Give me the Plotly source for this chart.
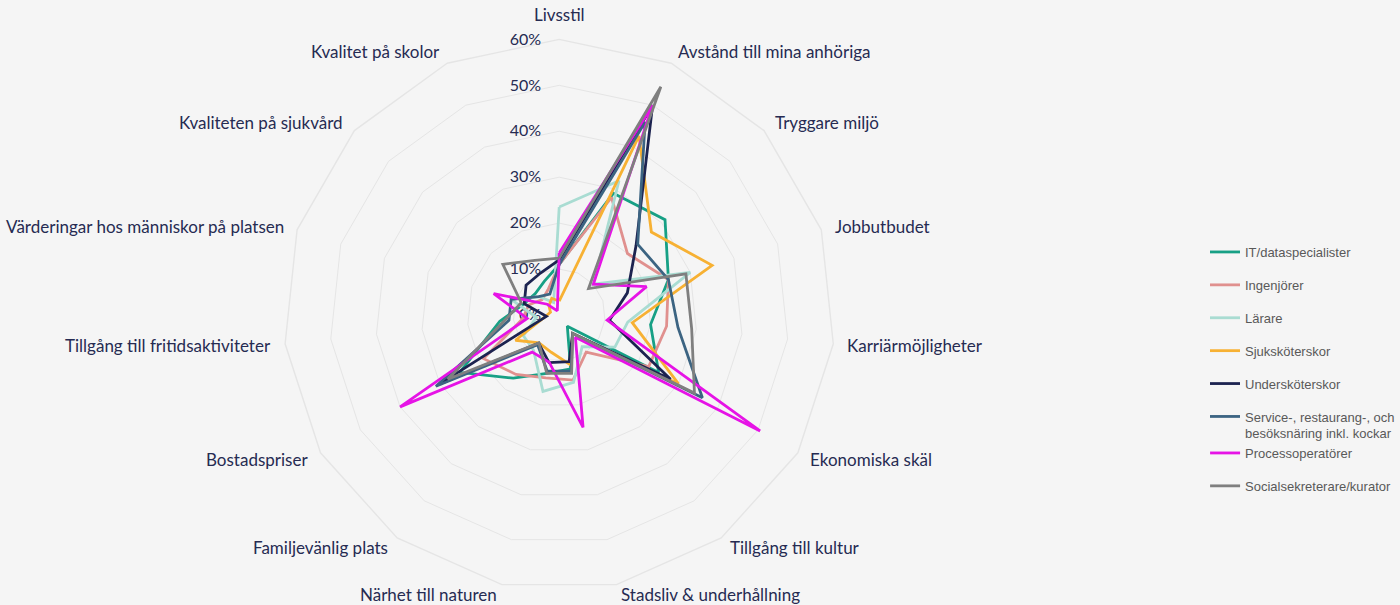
import math
import plotly.graph_objects as go

kategorier = ['Livsstil', 'Avstånd till mina anhöriga', 'Tryggare miljö', 'Jobbutbudet',
              'Karriärmöjligheter', 'Ekonomiska skäl', 'Tillgång till kultur',
              'Stadsliv & underhållning', 'Närhet till naturen', 'Familjevänlig plats',
              'Bostadspriser', 'Tillgång till fritidsaktiviteter',
              'Värderingar hos människor på platsen', 'Kvaliteten på sjukvård',
              'Kvalitet på skolor']

it_data = [11, 29, 31, 25, 20, 25, 3, 12, 13, 17, 25, 13, 8, 7, 8]
ingenjorer = [11, 28, 20, 25, 23.5, 22.5, 10, 14.5, 14, 16, 19, 8, 7, 5, 6]
larare = [23.5, 32, 10, 30, 15, 14, 8.5, 15, 17, 9.5, 9, 5, 11, 6, 3]
sjukskoterskor = [3, 42.7, 27, 35, 16, 30, 5, 11, 8.3, 7.5, 11, 3, 2, 3, 4]
underskoterskor = [12, 50, 22.5, 15.6, 11, 28, 5, 10.4, 10.6, 7.6, 30, 2.8, 8, 9.7, 10]
service = [11, 46, 23, 25, 26, 36, 5, 12.5, 12.5, 8, 31, 11, 11, 6, 5]
process = [13.5, 50, 10, 20, 10.5, 50.5, 6, 25, 10.5, 10, 40, 7, 15, 3.5, 1]
social = [12.4, 54.4, 8.6, 29, 29, 34, 5, 13, 13, 7.5, 28, 12, 8.7, 16.5, 13]

serier = [
    ('IT/dataspecialister', it_data, '#17a085'),
    ('Ingenjörer', ingenjorer, '#e0908e'),
    ('Lärare', larare, '#a9dcd2'),
    ('Sjuksköterskor', sjukskoterskor, '#f7b133'),
    ('Undersköterskor', underskoterskor, '#1c2350'),
    ('Service-, restaurang-, och<br>besöksnäring inkl. kockar', service, '#3c6482'),
    ('Processoperatörer', process, '#e613e6'),
    ('Socialsekreterare/kurator', social, '#7f7f7f'),
]

W, H = 1400, 605
cx, cy, R = 560, 315, 276  # polar centre and outer radius in pixels

fig = go.Figure()
for i, (namn, varden, farg) in enumerate(serier):
    fig.add_trace(go.Scatterpolar(
        r=varden + [varden[0]],
        theta=kategorier + [kategorier[0]],
        mode='lines',
        name=namn,
        legendgroup='g%d' % i,
        legend='legend' if i < 6 else 'legend2',  # split so the two-line item doesn't push the rest down
        line=dict(color=farg, width=2.8),
    ))

# category labels sit just outside the outer ring, like excel does it
etiketter = []
for i, namn in enumerate(kategorier):
    vinkel = math.radians(i * 360 / len(kategorier))
    s, c = math.sin(vinkel), math.cos(vinkel)
    px = cx + (R + 12) * s
    py = min(cy - (R + 12) * c, H - 11)  # keep the bottom two inside the page
    if abs(s) < 0.1:
        xa, ya = 'center', 'bottom'
    else:
        xa, ya = ('left' if s > 0 else 'right'), 'middle'
    etiketter.append(dict(
        text=namn, x=px / W, y=1 - py / H, xref='paper', yref='paper',
        xanchor=xa, yanchor=ya, showarrow=False,
        font=dict(family='Lato, Noto Sans', size=17, color='#262b52'),
    ))

legend_font = dict(family='Liberation Sans, Arial', size=13, color='#595959')

fig.update_layout(
    width=W, height=H,
    margin=dict(l=0, r=0, t=0, b=0),
    paper_bgcolor='#f5f5f5',
    showlegend=True,
    annotations=etiketter,
    legend=dict(
        x=0.862, y=1 - 237 / H, xanchor='left', yanchor='top', valign='top',
        font=legend_font, tracegroupgap=13, bgcolor='rgba(0,0,0,0)',
    ),
    legend2=dict(
        x=0.862, y=1 - 438 / H, xanchor='left', yanchor='top', valign='top',
        font=legend_font, tracegroupgap=13, bgcolor='rgba(0,0,0,0)',
    ),
    polar=dict(
        domain=dict(x=[(cx - R) / W, (cx + R) / W], y=[1 - (cy + R) / H, 1 - (cy - R) / H]),
        bgcolor='#f5f5f5',
        gridshape='linear',
        radialaxis=dict(
            range=[0, 60], dtick=10, ticksuffix='%', angle=90, tickangle=90,
            side='counterclockwise', showline=False, layer='below traces',
            ticks='outside', ticklen=12, tickcolor='rgba(0,0,0,0)',
            gridcolor='#e5e5e5', gridwidth=1.4,
            tickfont=dict(family='Lato, Noto Sans', size=16, color='#262b52'),
        ),
        angularaxis=dict(
            direction='clockwise', rotation=90, layer='below traces',
            showgrid=False, showline=True, linecolor='#e5e5e5', linewidth=1.4,
            ticks='', showticklabels=False,
        ),
    ),
)

fig.write_html('out.html', config={'displayModeBar': False},
               post_script="document.body.style.margin='0';")
